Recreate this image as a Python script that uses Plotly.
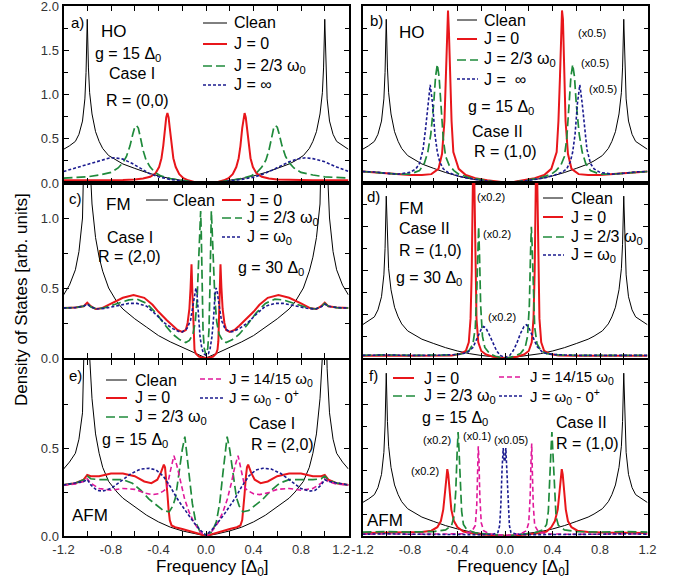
import plotly.graph_objects as go

W, H = 688, 584
FONT = "Liberation Sans, Arial, sans-serif"

BLACK = "#000000"
RED = "#e8161b"
GREEN = "#1f8a3b"
NAVY = "#1b1b8f"
MAGENTA = "#e0199a"

# ---------------- data ----------------
CLEAN_X = [-1.2, -1.15, -1.1, -1.07, -1.04, -1.02, -1.01, -1.0, -0.99, -0.98, -0.96, -0.93, -0.9, -0.87, -0.82, -0.75,
           -0.7, -0.6, -0.5, -0.4, -0.3, -0.2, -0.1, 0.0, 0.1, 0.2, 0.3, 0.4, 0.5, 0.6, 0.7, 0.75, 0.82, 0.87, 0.9,
           0.93, 0.96, 0.98, 0.99, 1.0, 1.01, 1.02, 1.04, 1.07, 1.1, 1.15, 1.2]
CLEAN_Y = [0.38, 0.42, 0.47, 0.55, 0.7, 0.95, 1.25, 1.85, 1.3, 1.02, 0.78, 0.58, 0.47, 0.39, 0.31, 0.25, 0.215, 0.165,
           0.118, 0.08, 0.05, 0.029, 0.013, 0.0, 0.013, 0.029, 0.05, 0.08, 0.118, 0.165, 0.215, 0.25, 0.31, 0.39,
           0.47, 0.58, 0.78, 1.02, 1.3, 1.85, 1.25, 0.95, 0.7, 0.55, 0.47, 0.42, 0.38]
C_CLEAN_Y = [0.45, 0.52, 0.63, 0.76, 1.0, 1.4, 1.9, 2.6, 1.9, 1.45, 1.1, 0.86, 0.72, 0.62, 0.5, 0.4, 0.35, 0.28, 0.22,
             0.16, 0.115, 0.075, 0.037, 0.0, 0.037, 0.075, 0.115, 0.16, 0.22, 0.28, 0.35, 0.4, 0.5, 0.62, 0.72, 0.86,
             1.1, 1.45, 1.9, 2.6, 1.9, 1.4, 1.0, 0.76, 0.63, 0.52, 0.45]

# panel a) HO, case I
A_RED_X = [-1.2, -0.9, -0.7, -0.6, -0.53, -0.47, -0.425, -0.395, -0.375, -0.36, -0.345, -0.335, -0.325, -0.315, -0.305,
           -0.29, -0.275, -0.255, -0.225, -0.19, -0.15, -0.1, -0.05, 0.0, 0.05, 0.1, 0.15, 0.19, 0.225, 0.255, 0.275,
           0.29, 0.305, 0.315, 0.325, 0.335, 0.345, 0.36, 0.375, 0.395, 0.425, 0.47, 0.53, 0.6, 0.7, 0.9, 1.2]
A_RED_Y = [0.03, 0.03, 0.035, 0.04, 0.05, 0.07, 0.11, 0.18, 0.28, 0.42, 0.62, 0.74, 0.79, 0.74, 0.62, 0.42, 0.28, 0.18,
           0.1, 0.055, 0.03, 0.012, 0.004, 0.0, 0.004, 0.012, 0.03, 0.055, 0.1, 0.18, 0.28, 0.42, 0.62, 0.74, 0.79,
           0.74, 0.62, 0.42, 0.28, 0.18, 0.11, 0.07, 0.05, 0.04, 0.035, 0.03, 0.03]
A_GREEN_X = [-1.2, -1.0, -0.9, -0.8, -0.74, -0.7, -0.67, -0.64, -0.615, -0.6, -0.585, -0.57, -0.55, -0.53, -0.505,
             -0.47, -0.43, -0.38, -0.3, -0.22, -0.14, -0.07, 0.0, 0.07, 0.14, 0.22, 0.3, 0.38, 0.43, 0.47, 0.505,
             0.53, 0.55, 0.57, 0.585, 0.6, 0.615, 0.64, 0.67, 0.7, 0.74, 0.8, 0.9, 1.0, 1.2]
A_GREEN_Y = [0.055, 0.07, 0.09, 0.12, 0.17, 0.23, 0.3, 0.42, 0.56, 0.63, 0.65, 0.62, 0.5, 0.37, 0.26, 0.18, 0.12, 0.08,
             0.05, 0.032, 0.018, 0.006, 0.0, 0.006, 0.018, 0.032, 0.05, 0.08, 0.12, 0.18, 0.26, 0.37, 0.5, 0.62,
             0.65, 0.63, 0.56, 0.42, 0.3, 0.23, 0.17, 0.12, 0.09, 0.07, 0.055]
A_BLUE_X = [-1.2, -1.1, -1.0, -0.9, -0.82, -0.77, -0.7, -0.62, -0.55, -0.48, -0.4, -0.3, -0.2, -0.1, 0.0, 0.1, 0.2,
            0.3, 0.4, 0.48, 0.55, 0.62, 0.7, 0.78, 0.84, 0.9, 1.0, 1.1, 1.2]
A_BLUE_Y = [0.13, 0.17, 0.21, 0.25, 0.28, 0.285, 0.27, 0.22, 0.16, 0.11, 0.07, 0.04, 0.022, 0.008, 0.0, 0.008, 0.022,
            0.04, 0.065, 0.1, 0.14, 0.19, 0.24, 0.275, 0.285, 0.275, 0.24, 0.18, 0.13]

# panel b) HO, case II
B_RED_X = [-1.2, -1.1, -1.0, -0.9, -0.8, -0.7, -0.62, -0.56, -0.53, -0.51, -0.497, -0.488, -0.48, -0.472, -0.463,
           -0.45, -0.435, -0.39, -0.33, -0.25, -0.15, -0.08, 0.0, 0.08, 0.15, 0.25, 0.33, 0.39, 0.435, 0.45, 0.463,
           0.472, 0.48, 0.488, 0.497, 0.51, 0.53, 0.56, 0.62, 0.7, 0.8, 0.9, 1.0, 1.1, 1.2]
B_RED_Y = [0.13, 0.12, 0.115, 0.1, 0.09, 0.09, 0.1, 0.16, 0.33, 0.7, 1.3, 1.85, 1.95, 1.7, 1.2, 0.7, 0.35, 0.16, 0.09,
           0.055, 0.03, 0.015, 0.005, 0.015, 0.03, 0.055, 0.09, 0.16, 0.35, 0.7, 1.2, 1.7, 1.95, 1.85, 1.3, 0.7,
           0.33, 0.16, 0.1, 0.09, 0.09, 0.1, 0.115, 0.12, 0.13]
B_GREEN_X = [-1.2, -1.1, -1.0, -0.9, -0.8, -0.72, -0.68, -0.65, -0.625, -0.6, -0.585, -0.57, -0.555, -0.54, -0.52,
             -0.5, -0.47, -0.43, -0.39, -0.3, -0.2, -0.1, 0.0, 0.1, 0.2, 0.3, 0.39, 0.43, 0.47, 0.5, 0.52, 0.54,
             0.555, 0.57, 0.585, 0.6, 0.625, 0.65, 0.68, 0.72, 0.8, 0.9, 1.0, 1.1, 1.2]
B_GREEN_Y = [0.13, 0.12, 0.11, 0.1, 0.1, 0.14, 0.22, 0.35, 0.55, 0.9, 1.2, 1.34, 1.2, 0.85, 0.5, 0.3, 0.2, 0.14, 0.1,
             0.06, 0.035, 0.015, 0.005, 0.015, 0.035, 0.06, 0.1, 0.14, 0.2, 0.3, 0.5, 0.85, 1.2, 1.34, 1.2, 0.9,
             0.55, 0.35, 0.22, 0.14, 0.1, 0.1, 0.11, 0.12, 0.13]
B_BLUE_X = [-1.2, -1.1, -1.0, -0.9, -0.8, -0.75, -0.72, -0.69, -0.67, -0.65, -0.63, -0.61, -0.59, -0.57, -0.55, -0.52,
            -0.48, -0.42, -0.34, -0.25, -0.15, -0.07, 0.0, 0.07, 0.15, 0.25, 0.34, 0.42, 0.48, 0.52, 0.55, 0.57,
            0.59, 0.61, 0.63, 0.65, 0.67, 0.69, 0.72, 0.75, 0.8, 0.9, 1.0, 1.1, 1.2]
B_BLUE_Y = [0.13, 0.125, 0.11, 0.1, 0.12, 0.16, 0.22, 0.38, 0.6, 0.9, 1.11, 0.9, 0.55, 0.35, 0.24, 0.16, 0.12, 0.09,
            0.06, 0.04, 0.02, 0.008, 0.003, 0.008, 0.02, 0.04, 0.06, 0.09, 0.12, 0.16, 0.24, 0.35, 0.55, 0.9, 1.11,
            0.9, 0.6, 0.38, 0.22, 0.16, 0.12, 0.1, 0.11, 0.125, 0.13]

# panel c) FM, case I
C_RED_X = [-1.2, -1.1, -1.03, -1.0, -0.97, -0.93, -0.88, -0.8, -0.7, -0.61, -0.52, -0.45, -0.4, -0.33, -0.28, -0.24,
           -0.2, -0.17, -0.155, -0.14, -0.13, -0.122, -0.116, -0.11, -0.104, -0.097, -0.085, -0.06, -0.03, 0.0,
           0.03, 0.06, 0.085, 0.097, 0.104, 0.11, 0.116, 0.122, 0.13, 0.14, 0.155, 0.17, 0.2, 0.24, 0.28, 0.33,
           0.4, 0.45, 0.52, 0.61, 0.7, 0.8, 0.88, 0.93, 0.97, 1.0, 1.03, 1.1, 1.2]
C_RED_Y = [0.357, 0.36, 0.37, 0.395, 0.37, 0.35, 0.355, 0.39, 0.43, 0.45, 0.43, 0.38, 0.33, 0.27, 0.23, 0.2, 0.186,
           0.2, 0.25, 0.35, 0.5, 0.67, 0.5, 0.3, 0.12, 0.06, 0.03, 0.01, 0.003, 0.0, 0.003, 0.01, 0.03, 0.06, 0.12,
           0.3, 0.5, 0.67, 0.5, 0.35, 0.25, 0.2, 0.186, 0.2, 0.23, 0.27, 0.33, 0.38, 0.43, 0.45, 0.43, 0.39, 0.355,
           0.35, 0.37, 0.395, 0.37, 0.36, 0.357]
C_GREEN_X = [-1.2, -1.1, -1.03, -1.0, -0.97, -0.92, -0.85, -0.75, -0.65, -0.58, -0.5, -0.42, -0.35, -0.28, -0.22,
             -0.17, -0.14, -0.11, -0.09, -0.075, -0.062, -0.05, -0.045, -0.04, -0.033, -0.025, -0.015, 0.0, 0.015,
             0.025, 0.033, 0.04, 0.045, 0.05, 0.062, 0.075, 0.09, 0.11, 0.14, 0.17, 0.22, 0.28, 0.35, 0.42, 0.5,
             0.58, 0.65, 0.75, 0.85, 0.92, 0.97, 1.0, 1.03, 1.1, 1.2]
C_GREEN_Y = [0.357, 0.36, 0.37, 0.39, 0.365, 0.35, 0.36, 0.39, 0.415, 0.42, 0.39, 0.32, 0.24, 0.17, 0.13, 0.11,
             0.125, 0.17, 0.26, 0.42, 0.7, 0.95, 1.05, 0.9, 0.5, 0.2, 0.07, 0.02, 0.07, 0.2, 0.5, 0.9, 1.05, 0.95,
             0.7, 0.42, 0.26, 0.17, 0.125, 0.11, 0.13, 0.17, 0.24, 0.32, 0.39, 0.42, 0.415, 0.39, 0.36, 0.35, 0.365,
             0.39, 0.37, 0.36, 0.357]
C_BLUE_X = [-1.2, -1.1, -1.03, -1.0, -0.97, -0.92, -0.85, -0.75, -0.65, -0.58, -0.5, -0.42, -0.35, -0.28, -0.23, -0.2,
            -0.16, -0.13, -0.11, -0.095, -0.085, -0.075, -0.065, -0.05, -0.035, -0.02, 0.0, 0.02, 0.035, 0.05, 0.065,
            0.075, 0.085, 0.095, 0.11, 0.13, 0.16, 0.2, 0.23, 0.28, 0.35, 0.42, 0.5, 0.58, 0.65, 0.75, 0.85, 0.92,
            0.97, 1.0, 1.03, 1.1, 1.2]
C_BLUE_Y = [0.357, 0.36, 0.37, 0.385, 0.365, 0.35, 0.355, 0.375, 0.39, 0.39, 0.37, 0.31, 0.25, 0.21, 0.19, 0.186,
            0.21, 0.27, 0.38, 0.47, 0.5, 0.45, 0.3, 0.15, 0.07, 0.03, 0.02, 0.03, 0.07, 0.15, 0.3, 0.45, 0.5, 0.47,
            0.38, 0.27, 0.21, 0.186, 0.19, 0.21, 0.25, 0.31, 0.37, 0.39, 0.39, 0.375, 0.355, 0.35, 0.365, 0.385,
            0.37, 0.36, 0.357]

# panel d) FM, case II
D_RED_X = [-1.2, -1.0, -0.8, -0.6, -0.45, -0.38, -0.33, -0.305, -0.29, -0.28, -0.272, -0.265, -0.258, -0.25, -0.24,
           -0.225, -0.2, -0.16, -0.1, -0.05, 0.0, 0.05, 0.1, 0.16, 0.2, 0.225, 0.24, 0.25, 0.258, 0.265, 0.272, 0.28,
           0.29, 0.305, 0.33, 0.38, 0.45, 0.6, 0.8, 1.0, 1.2]
D_RED_Y = [0.025, 0.03, 0.025, 0.025, 0.03, 0.045, 0.08, 0.18, 0.45, 1.0, 2.0, 2.6, 2.0, 1.0, 0.45, 0.18, 0.08, 0.04,
           0.015, 0.005, 0.0, 0.005, 0.015, 0.04, 0.08, 0.18, 0.45, 1.0, 2.0, 2.6, 2.0, 1.0, 0.45, 0.18, 0.08, 0.045,
           0.03, 0.025, 0.025, 0.03, 0.025]
D_GREEN_X = [-1.2, -1.0, -0.8, -0.6, -0.45, -0.35, -0.3, -0.27, -0.25, -0.238, -0.228, -0.222, -0.215, -0.205, -0.19,
             -0.17, -0.13, -0.08, -0.03, 0.0, 0.03, 0.08, 0.13, 0.17, 0.19, 0.205, 0.215, 0.222, 0.228, 0.238, 0.25,
             0.27, 0.3, 0.35, 0.45, 0.6, 0.8, 1.0, 1.2]
D_GREEN_Y = [0.03, 0.035, 0.03, 0.03, 0.035, 0.05, 0.09, 0.16, 0.35, 0.75, 1.3, 1.5, 1.2, 0.6, 0.25, 0.12, 0.05, 0.02,
             0.005, 0.0, 0.005, 0.02, 0.05, 0.12, 0.25, 0.6, 1.2, 1.5, 1.3, 0.75, 0.35, 0.16, 0.09, 0.05, 0.035, 0.03,
             0.03, 0.035, 0.03]
D_BLUE_X = [-1.2, -1.0, -0.8, -0.6, -0.4, -0.32, -0.27, -0.23, -0.2, -0.18, -0.16, -0.13, -0.1, -0.07, -0.04, 0.0,
            0.04, 0.07, 0.1, 0.13, 0.16, 0.18, 0.2, 0.23, 0.27, 0.32, 0.4, 0.6, 0.8, 1.0, 1.2]
D_BLUE_Y = [0.03, 0.035, 0.03, 0.03, 0.04, 0.06, 0.12, 0.25, 0.33, 0.36, 0.34, 0.26, 0.16, 0.08, 0.03, 0.005, 0.03,
            0.085, 0.17, 0.28, 0.36, 0.38, 0.35, 0.26, 0.13, 0.06, 0.04, 0.03, 0.03, 0.035, 0.03]

# panel e) AFM, case I
E_RED_X = [-1.2, -1.1, -1.03, -1.0, -0.97, -0.9, -0.8, -0.7, -0.6, -0.52, -0.46, -0.41, -0.38, -0.355, -0.345, -0.335,
           -0.325, -0.315, -0.305, -0.29, -0.26, -0.2, -0.12, -0.06, 0.0, 0.06, 0.12, 0.2, 0.26, 0.29, 0.305, 0.315,
           0.325, 0.335, 0.345, 0.355, 0.38, 0.41, 0.46, 0.52, 0.6, 0.7, 0.8, 0.9, 0.97, 1.0, 1.03, 1.1, 1.2]
E_RED_Y = [0.29, 0.3, 0.32, 0.347, 0.34, 0.34, 0.355, 0.355, 0.34, 0.31, 0.3, 0.32, 0.36, 0.405, 0.39, 0.33, 0.24,
           0.15, 0.09, 0.06, 0.05, 0.04, 0.027, 0.013, 0.0, 0.013, 0.027, 0.04, 0.05, 0.06, 0.09, 0.15, 0.24, 0.33,
           0.39, 0.405, 0.36, 0.32, 0.3, 0.31, 0.34, 0.355, 0.355, 0.34, 0.34, 0.347, 0.32, 0.3, 0.29]
E_GREEN_X = [-1.2, -1.1, -1.03, -1.0, -0.97, -0.9, -0.8, -0.7, -0.62, -0.55, -0.48, -0.42, -0.36, -0.31, -0.28,
             -0.256, -0.228, -0.2, -0.178, -0.16, -0.143, -0.115, -0.087, -0.05, 0.0, 0.05, 0.087, 0.115, 0.143, 0.16,
             0.178, 0.2, 0.228, 0.256, 0.28, 0.31, 0.36, 0.42, 0.48, 0.55, 0.62, 0.7, 0.8, 0.9, 0.97, 1.0, 1.03, 1.1,
             1.2]
E_GREEN_Y = [0.29, 0.3, 0.32, 0.34, 0.325, 0.32, 0.32, 0.32, 0.3, 0.26, 0.21, 0.175, 0.145, 0.137, 0.17, 0.22, 0.36,
             0.49, 0.565, 0.46, 0.36, 0.185, 0.08, 0.023, 0.005, 0.023, 0.08, 0.185, 0.36, 0.46, 0.565, 0.49, 0.36,
             0.22, 0.17, 0.137, 0.145, 0.175, 0.21, 0.26, 0.3, 0.32, 0.32, 0.32, 0.325, 0.34, 0.32, 0.3, 0.29]
E_MAG_X = [-1.2, -1.1, -1.03, -1.0, -0.97, -0.9, -0.8, -0.7, -0.6, -0.52, -0.45, -0.4, -0.36, -0.33, -0.3, -0.27,
           -0.245, -0.213, -0.18, -0.143, -0.1, -0.06, -0.03, 0.0, 0.03, 0.06, 0.1, 0.143, 0.18, 0.213, 0.245, 0.27,
           0.3, 0.33, 0.36, 0.4, 0.45, 0.52, 0.6, 0.7, 0.8, 0.9, 0.97, 1.0, 1.03, 1.1, 1.2]
E_MAG_Y = [0.29, 0.295, 0.31, 0.325, 0.3, 0.27, 0.26, 0.27, 0.265, 0.245, 0.235, 0.24, 0.255, 0.27, 0.37, 0.456, 0.4,
           0.3, 0.21, 0.137, 0.075, 0.035, 0.012, 0.0, 0.012, 0.035, 0.075, 0.137, 0.21, 0.3, 0.4, 0.456, 0.37, 0.27,
           0.255, 0.24, 0.235, 0.245, 0.265, 0.27, 0.26, 0.27, 0.3, 0.325, 0.31, 0.295, 0.29]
E_BLUE_X = [-1.2, -1.1, -1.03, -1.0, -0.97, -0.92, -0.87, -0.8, -0.72, -0.63, -0.55, -0.48, -0.42, -0.36, -0.3, -0.25,
            -0.2, -0.15, -0.1, -0.05, 0.0, 0.05, 0.1, 0.15, 0.2, 0.25, 0.3, 0.36, 0.42, 0.48, 0.55, 0.63, 0.72, 0.8,
            0.87, 0.92, 0.97, 1.0, 1.03, 1.1, 1.2]
E_BLUE_Y = [0.29, 0.3, 0.31, 0.32, 0.29, 0.26, 0.255, 0.27, 0.31, 0.355, 0.38, 0.385, 0.375, 0.34, 0.28, 0.22, 0.17,
            0.12, 0.075, 0.035, 0.005, 0.035, 0.075, 0.12, 0.17, 0.22, 0.28, 0.34, 0.375, 0.385, 0.38, 0.355, 0.31,
            0.27, 0.255, 0.26, 0.29, 0.32, 0.31, 0.3, 0.29]

# panel f) AFM, case II
F_RED_X = [-1.2, -1.0, -0.8, -0.7, -0.62, -0.57, -0.54, -0.52, -0.505, -0.494, -0.486, -0.478, -0.467, -0.452, -0.43,
           -0.4, -0.35, -0.28, -0.2, -0.1, 0.0, 0.1, 0.2, 0.28, 0.35, 0.39, 0.42, 0.444, 0.459, 0.47, 0.478, 0.486,
           0.497, 0.512, 0.53, 0.56, 0.61, 0.7, 0.8, 1.0, 1.2]
F_RED_Y = [0.035, 0.04, 0.04, 0.045, 0.06, 0.1, 0.17, 0.3, 0.5, 0.7, 0.76, 0.7, 0.5, 0.3, 0.17, 0.1, 0.05, 0.03, 0.018,
           0.008, 0.003, 0.008, 0.018, 0.03, 0.05, 0.1, 0.17, 0.3, 0.5, 0.7, 0.76, 0.7, 0.5, 0.3, 0.17, 0.1, 0.06,
           0.045, 0.04, 0.04, 0.035]
F_GREEN_X = [-1.2, -1.0, -0.8, -0.6, -0.5, -0.45, -0.43, -0.415, -0.403, -0.395, -0.388, -0.378, -0.365, -0.35, -0.32,
             -0.25, -0.15, -0.07, 0.0, 0.07, 0.15, 0.25, 0.32, 0.35, 0.365, 0.378, 0.388, 0.395, 0.403, 0.415, 0.43,
             0.45, 0.5, 0.6, 0.8, 1.0, 1.2]
F_GREEN_Y = [0.045, 0.05, 0.045, 0.05, 0.07, 0.12, 0.22, 0.5, 0.95, 1.18, 1.0, 0.6, 0.28, 0.13, 0.07, 0.035, 0.02,
             0.01, 0.005, 0.01, 0.02, 0.035, 0.07, 0.13, 0.28, 0.6, 1.0, 1.18, 0.95, 0.5, 0.22, 0.12, 0.07, 0.05,
             0.045, 0.05, 0.045]
F_MAG_X = [-1.2, -1.0, -0.8, -0.5, -0.35, -0.28, -0.25, -0.238, -0.23, -0.225, -0.219, -0.212, -0.2, -0.18, -0.14,
           -0.08, 0.0, 0.08, 0.14, 0.18, 0.2, 0.212, 0.219, 0.225, 0.23, 0.238, 0.25, 0.28, 0.35, 0.5, 0.8, 1.0, 1.2]
F_MAG_Y = [0.02, 0.025, 0.02, 0.02, 0.025, 0.05, 0.12, 0.35, 0.75, 1.02, 0.85, 0.45, 0.15, 0.06, 0.03, 0.015, 0.008,
           0.015, 0.03, 0.06, 0.15, 0.45, 0.85, 1.05, 0.75, 0.35, 0.12, 0.05, 0.025, 0.02, 0.02, 0.025, 0.02]
F_BLUE_X = [-1.2, -1.0, -0.8, -0.5, -0.2, -0.1, -0.06, -0.045, -0.035, -0.025, -0.015, -0.007, 0.0, 0.007, 0.017,
            0.027, 0.037, 0.05, 0.1, 0.2, 0.5, 0.8, 1.0, 1.2]
F_BLUE_Y = [0.02, 0.025, 0.02, 0.015, 0.015, 0.02, 0.04, 0.12, 0.35, 0.75, 1.0, 0.85, 0.85, 1.0, 0.75, 0.35, 0.12,
            0.04, 0.02, 0.015, 0.015, 0.02, 0.025, 0.02]

X_TICKS = [-1.2, -0.8, -0.4, 0.0, 0.4, 0.8, 1.2]
X_LABELS_LEFT = ["-1.2", "-0.8", "-0.4", "0.0", "0.4", "0.8", "1.2\u00a0\u00a0\u00a0\u00a0"]
X_LABELS_RIGHT = ["-1.2", "-0.8", "-0.4", "0.0", "0.4", "0.8", "1.2"]
X_MINOR = [-1.0, -0.6, -0.2, 0.2, 0.6, 1.0]

# ---------------- styles ----------------
S_CLEAN = dict(color=BLACK, width=1.0)
S_RED = dict(color=RED, width=2.0)
S_GREEN = dict(color=GREEN, width=1.7, dash="9px,4px")
S_BLUE = dict(color=NAVY, width=1.6, dash="3px,2px")
S_MAG = dict(color=MAGENTA, width=1.6, dash="5px,3px")

fig = go.Figure()


def add(xs, ys, style, k):
    assert len(xs) == len(ys), (len(xs), len(ys))
    fig.add_trace(go.Scatter(x=xs, y=ys, mode="lines", line=style, showlegend=False, hoverinfo="skip",
                             xaxis="x" if k == 1 else f"x{k}", yaxis="y" if k == 1 else f"y{k}"))


# a
add(CLEAN_X, CLEAN_Y, S_CLEAN, 1)
add(A_RED_X, A_RED_Y, S_RED, 1)
add(A_GREEN_X, A_GREEN_Y, S_GREEN, 1)
add(A_BLUE_X, A_BLUE_Y, S_BLUE, 1)
# b
add(CLEAN_X, CLEAN_Y, S_CLEAN, 2)
add(B_RED_X, B_RED_Y, S_RED, 2)
add(B_GREEN_X, B_GREEN_Y, S_GREEN, 2)
add(B_BLUE_X, B_BLUE_Y, S_BLUE, 2)
# c
add(CLEAN_X, C_CLEAN_Y, S_CLEAN, 3)
add(C_RED_X, C_RED_Y, S_RED, 3)
add(C_GREEN_X, C_GREEN_Y, S_GREEN, 3)
add(C_BLUE_X, C_BLUE_Y, S_BLUE, 3)
# d
add(CLEAN_X, CLEAN_Y, S_CLEAN, 4)
add(D_RED_X, D_RED_Y, S_RED, 4)
add(D_GREEN_X, D_GREEN_Y, S_GREEN, 4)
add(D_BLUE_X, D_BLUE_Y, S_BLUE, 4)
# e
add(CLEAN_X, CLEAN_Y, S_CLEAN, 5)
add(E_RED_X, E_RED_Y, S_RED, 5)
add(E_GREEN_X, E_GREEN_Y, S_GREEN, 5)
add(E_MAG_X, E_MAG_Y, S_MAG, 5)
add(E_BLUE_X, E_BLUE_Y, S_BLUE, 5)
# f
add(CLEAN_X, CLEAN_Y, S_CLEAN, 6)
add(F_RED_X, F_RED_Y, S_RED, 6)
add(F_GREEN_X, F_GREEN_Y, S_GREEN, 6)
add(F_MAG_X, F_MAG_Y, S_MAG, 6)
add(F_BLUE_X, F_BLUE_Y, S_BLUE, 6)

# ---------------- axes ----------------
LEFT = [63.5 / W, 348.5 / W]
RIGHT = [362.5 / W, 647.5 / W]
ROW1 = [1 - 183 / H, 1 - 6 / H]
ROW2 = [1 - 358 / H, 1 - 183 / H]
ROW3 = [1 - 536 / H, 1 - 360 / H]

TICKFONT = dict(size=13, color="#333333", family=FONT)


def xax(domain, anchor, labels, ticktext):
    return dict(domain=domain, anchor=anchor, range=[-1.2, 1.2], tickmode="array", tickvals=X_TICKS,
                ticktext=ticktext, ticks="inside", ticklen=5, tickwidth=1, tickcolor="black",
                minor=dict(tickmode="array", tickvals=X_MINOR, ticks="inside", ticklen=5, tickwidth=1,
                           tickcolor="black", showgrid=False),
                showline=True, linewidth=2, linecolor="black", mirror="allticks", showgrid=False,
                zeroline=False, showticklabels=labels, tickfont=TICKFONT, automargin=False, fixedrange=True,
                ticklabeloverflow="allow")


def yax(domain, anchor, rng, vals, minor, labels):
    return dict(domain=domain, anchor=anchor, range=rng, tickmode="array", tickvals=vals, tickformat=".1f",
                ticks="inside", ticklen=5, tickwidth=1, tickcolor="black",
                minor=dict(tickmode="array", tickvals=minor, ticks="inside", ticklen=4, tickwidth=1,
                           tickcolor="black", showgrid=False),
                showline=True, linewidth=2, linecolor="black", mirror="allticks", showgrid=False,
                zeroline=False, showticklabels=labels, tickfont=TICKFONT, automargin=False, fixedrange=True,
                ticklabeloverflow="allow")


Y2 = [0, 0.5, 1.0, 1.5, 2.0]
Y2M = [0.25, 0.75, 1.25, 1.75]

layout = dict(
    width=W, height=H, margin=dict(l=0, r=0, t=0, b=0), showlegend=False,
    paper_bgcolor="white", plot_bgcolor="white", template="none",
    font=dict(family=FONT, color="black"),
    xaxis=xax(LEFT, "y", False, X_LABELS_LEFT), yaxis=yax(ROW1, "x", [0, 2.0], Y2, Y2M, True),
    xaxis2=xax(RIGHT, "y2", False, X_LABELS_RIGHT), yaxis2=yax(ROW1, "x2", [0, 2.0], Y2, Y2M, False),
    xaxis3=xax(LEFT, "y3", False, X_LABELS_LEFT),
    yaxis3=yax(ROW2, "x3", [0, 1.25], [0, 0.5, 1.0], [0.25, 0.75], True),
    xaxis4=xax(RIGHT, "y4", False, X_LABELS_RIGHT), yaxis4=yax(ROW2, "x4", [0, 2.0], Y2, Y2M, False),
    xaxis5=xax(LEFT, "y5", True, X_LABELS_LEFT),
    yaxis5=yax(ROW3, "x5", [0, 1.0], [0, 0.5], [0.25, 0.75], True),
    xaxis6=xax(RIGHT, "y6", True, X_LABELS_RIGHT), yaxis6=yax(ROW3, "x6", [0, 2.0], Y2, Y2M, False),
)
fig.update_layout(**layout)

# ---------------- text & legend keys ----------------
annotations = []
shapes = []


def txt(text, px, py, size=16, anchor="center", angle=0):
    annotations.append(dict(text=text, x=px / W, y=1 - py / H, xref="paper", yref="paper", showarrow=False,
                            xanchor=anchor, yanchor="middle", textangle=angle,
                            font=dict(size=size, color="black", family=FONT)))


def key(px0, px1, py, style, label, tx, size=16):
    shapes.append(dict(type="line", xref="paper", yref="paper", x0=px0 / W, x1=px1 / W, y0=1 - py / H,
                       y1=1 - py / H, line=style))
    txt(label, tx, py, size, "left")


W0 = "ω<sub>0</sub>"
D0 = "Δ<sub>0</sub>"

# a
txt("a)", 77, 23, 15)
txt("HO", 114, 31, 17)
txt("g = 15 " + D0, 128, 54, 16)
txt("Case I", 132, 74, 16)
txt("R = (0,0)", 137, 101, 16)
key(203, 227, 23, S_CLEAN, "Clean", 232)
key(203, 227, 44, S_RED, "J = 0", 232)
key(203, 228, 66, S_GREEN, "J = 2/3 " + W0, 232)
key(203, 228, 85, S_BLUE, "J = ∞", 232)
# b
txt("b)", 376, 21, 15)
txt("HO", 412, 33, 17)
txt("g = 15 " + D0, 501, 107, 16)
txt("Case II", 498, 131, 16)
txt("R = (1,0)", 505, 151, 16)
txt("(x0.5)", 592, 33, 11)
txt("(x0.5)", 595, 63, 11)
txt("(x0.5)", 603, 89, 11)
key(457, 477, 20, S_CLEAN, "Clean", 482)
key(457, 477, 39, S_RED, "J = 0", 482)
key(457, 478, 60, S_GREEN, "J = 2/3 " + W0, 482)
key(457, 478, 79, S_BLUE, "J =  ∞", 482)
# c
txt("c)", 75, 198, 15)
txt("FM", 118, 204, 17)
txt("Case I", 130, 237, 16)
txt("R = (2,0)", 129, 257, 16)
txt("g = 30 " + D0, 271, 268, 16)
key(146, 168, 200, S_CLEAN, "Clean", 171)
key(222, 241, 200, S_RED, "J = 0", 245)
key(222, 242, 218, S_GREEN, "J = 2/3 " + W0, 245)
key(222, 242, 237, S_BLUE, "J = " + W0, 245)
# d
txt("d)", 373, 197, 15)
txt("FM", 412, 208, 17)
txt("Case II", 424, 229, 16)
txt("R = (1,0)", 430, 250, 16)
txt("g = 30 " + D0, 429, 278, 16)
txt("(x0.2)", 491, 197, 11)
txt("(x0.2)", 497, 234, 11)
txt("(x0.2)", 502, 317, 11)
key(543, 563, 198, S_CLEAN, "Clean", 569)
key(543, 563, 217, S_RED, "J = 0", 569)
key(543, 564, 237, S_GREEN, "J = 2/3 " + W0, 569)
key(543, 564, 255, S_BLUE, "J = " + W0, 569)
# e
txt("e)", 75, 375, 15)
txt("g = 15 " + D0, 135, 440, 16)
txt("Case I", 272, 423, 16)
txt("R = (2,0)", 282, 444, 16)
txt("AFM", 90, 515, 17)
key(106, 127, 380, S_CLEAN, "Clean", 133)
key(106, 127, 398, S_RED, "J = 0", 133)
key(106, 128, 417, S_GREEN, "J = 2/3 " + W0, 133)
key(200, 223, 379, S_MAG, "J = 14/15 " + W0, 227, 15)
key(200, 223, 398, S_BLUE, "J = " + W0 + " - 0<sup>+</sup>", 227, 15)
# f
txt("f)", 373, 375, 15)
txt("g = 15 " + D0, 455, 418, 16)
txt("Case II", 581, 422, 16)
txt("R = (1,0)", 587, 443, 16)
txt("AFM", 385, 520, 17)
txt("(x0.2)", 437, 440, 11)
txt("(x0.1)", 477, 436, 11)
txt("(x0.05)", 511, 440, 11)
txt("(x0.2)", 425, 471, 11)
key(393, 414, 378, S_RED, "J = 0", 422)
key(393, 415, 396, S_GREEN, "J = 2/3 " + W0, 422)
key(499, 522, 377, S_MAG, "J = 14/15 " + W0, 528, 15)
key(499, 522, 396, S_BLUE, "J = " + W0 + " - 0<sup>+</sup>", 528, 15)

# axis titles
txt("Frequency [" + D0 + "]", 212, 568, 17)
txt("Frequency [" + D0 + "]", 513, 568, 17)
txt("Density of States [arb. units]", 21, 300, 17, "center", -90)

fig.update_layout(annotations=annotations, shapes=shapes)
fig.write_html("out.html", config={"displayModeBar": False},
               post_script="document.body.style.margin='0';")
